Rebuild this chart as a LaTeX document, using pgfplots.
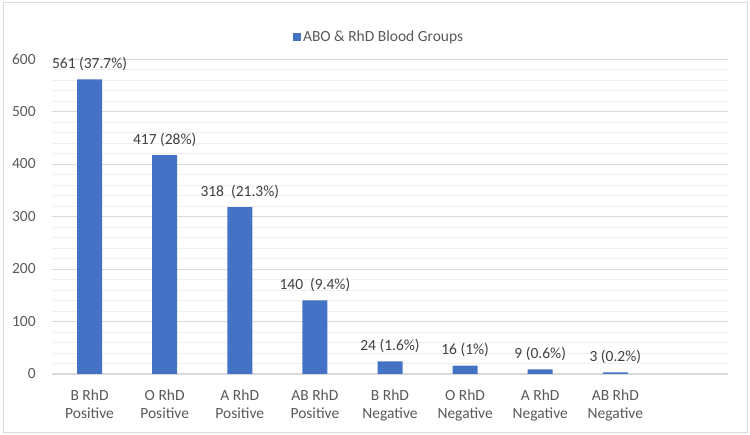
\documentclass[border=0pt]{standalone}
\usepackage{pgfplots}
\pgfplotsset{compat=1.18}
\usepackage{fontspec}
\setmainfont{Carlito}
\definecolor{barblue}{HTML}{4472C4}
\definecolor{txt}{HTML}{595959}
\definecolor{lbl}{HTML}{404040}
\definecolor{gridc}{HTML}{D9D9D9}
\definecolor{minorgridc}{HTML}{EFEFEF}
\definecolor{framec}{HTML}{D9D9D9}
\begin{document}
\begin{tikzpicture}
\fontsize{15.5}{18}\selectfont
\useasboundingbox (0pt,0pt) rectangle (750pt,435pt);
\draw[framec, line width=1pt] (3pt,2.5pt) rectangle (747pt,432pt);
\begin{axis}[
  at={(89.56pt,61pt)}, anchor=origin,
  scale only axis, width=676pt, height=315pt,
  xmin=-0.5, xmax=8.5, ymin=0, ymax=600,
  ytick={0,100,...,600}, minor y tick num=4,
  ymajorgrids, yminorgrids,
  major grid style={gridc, line width=0.8pt},
  minor grid style={minorgridc, line width=0.8pt},
  axis lines*=left,
  y axis line style={draw=none},
  x axis line style={gridc, line width=1pt},
  major tick length=0pt, minor tick length=0pt,
  /pgf/number format/assume math mode=true,
  tick label style={text=txt, font=\fontsize{15.5}{18}\selectfont},
  yticklabel style={xshift=-11pt},
  xtick={0,1,2,3,4,5,6,7},
  xticklabels={{B RhD\\Positive},{O RhD\\Positive},{A RhD\\Positive},{AB RhD\\Positive},{B RhD\\Negative},{O RhD\\Negative},{A RhD\\Negative},{AB RhD\\Negative}},
  xticklabel style={align=center, yshift=-10pt},
  ybar, bar width=25pt,
  point meta=explicit symbolic,
  nodes near coords,
  nodes near coords style={text=lbl, anchor=south, inner sep=0pt, yshift=8.5pt, font=\fontsize{15.5}{18}\selectfont},
  legend style={at={(axis description cs:0.484,1.07)}, anchor=center, draw=none, fill=none, text=txt, font=\fontsize{15.5}{18}\selectfont},
  legend image code/.code={\fill[barblue] (0pt,-4pt) rectangle (8pt,4pt);},
]
\addplot[fill=barblue, draw=none] coordinates {
  (0,561) [561 (37.7\%)]
  (1,417) [417 (28\%)]
  (2,318) [318\ \ (21.3\%)]
  (3,140) [140\ \ (9.4\%)]
  (4,24) [24 (1.6\%)]
  (5,16) [16 (1\%)]
  (6,9) [9 (0.6\%)]
  (7,3) [3 (0.2\%)]
};
\addlegendentry{ABO \& RhD Blood Groups}
\end{axis}
\end{tikzpicture}
\end{document}
